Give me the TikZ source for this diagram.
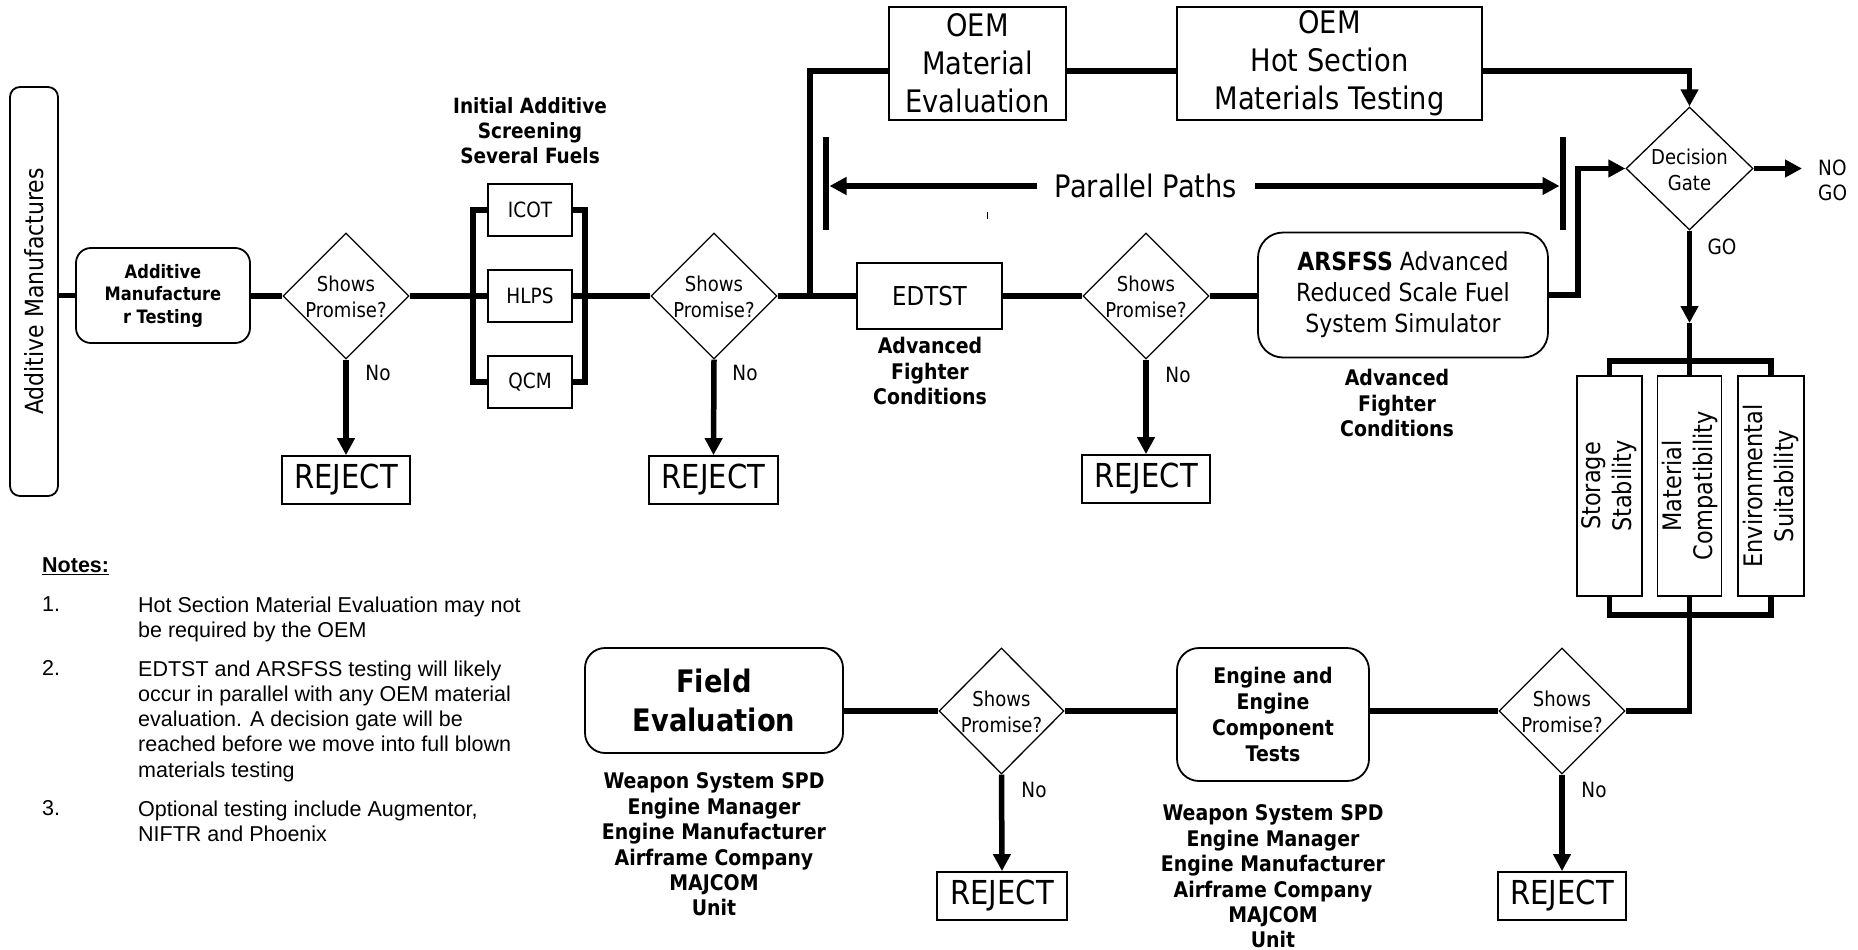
\documentclass[tikz,border=0pt]{standalone}
\usepackage{fontspec}
\usetikzlibrary{shapes.geometric,arrows.meta}
\newfontfamily\tah{DejaVu Sans}[FakeStretch=0.88]
\newfontfamily\ari{Liberation Sans}
\newcommand{\myfs}[2]{\fontsize{#1}{#2}\selectfont}
\tikzset{
  conn/.style={line width=5.5pt, line join=miter},
  arr/.style={conn, -{Triangle[length=17pt,width=17pt]}},
  bar/.style={line width=6.5pt},
  box/.style={draw, line width=1.8pt, inner sep=0pt, align=center},
  rbox/.style={box, rounded corners=15pt},
  dia/.style={draw, diamond, line width=1.3pt, inner sep=0pt, minimum width=126pt, minimum height=126pt},
  dtxt/.style={inner sep=0pt, align=center, font=\tah\myfs{20.5}{26}},
  rej/.style={box, minimum width=128pt, minimum height=48pt, font=\tah\myfs{33}{38}},
  lbl/.style={inner sep=0pt, font=\tah\myfs{21}{25}},
  sbox/.style={box, minimum width=84pt, minimum height=52pt, font=\tah\myfs{21}{25}},
  bld/.style={inner sep=0pt, align=center, font=\tah\bfseries\myfs{21.5}{25.4}},
  big/.style={box, font=\tah\myfs{31}{38}},
  vbox/.style={box, rotate=90, minimum width=220pt, font=\tah\myfs{25.5}{31}},
  ntxt/.style={inner sep=0pt, align=left, font=\ari\myfs{21.5}{25.3}}
}
\begin{document}
\begin{tikzpicture}[x=1pt,y=-1pt]
\useasboundingbox[fill=white] (0,0) rectangle (1858,950);

% ---------- top row ----------
\node[rbox, rounded corners=10pt, rotate=90, minimum width=409pt, minimum height=48pt, font=\tah\myfs{25}{30}] (addman) at (34,291.5) {Additive Manufactures};
\node[rbox, minimum width=174pt, minimum height=95pt, font=\tah\bfseries\myfs{18.5}{22.5}] (amt) at (163,295.5) {Additive\\Manufacture\\r Testing};

\node[dia] (d1) at (346,296) {};
\node[dtxt] (d1t) at (346,297) {Shows\\Promise?};
\node[rej] (r1) at (346,480) {REJECT};
\node[lbl] (n1) at (378,373) {No};

\node[bld, font=\tah\bfseries\myfs{21}{25}] (ias) at (530,131) {Initial Additive\\Screening\\Several Fuels};
\node[sbox] (icot) at (530,210) {ICOT};
\node[sbox] (hlps) at (530,296) {HLPS};
\node[sbox] (qcm) at (530,382) {QCM};

\node[dia] (d2) at (714,296) {};
\node[dtxt] (d2t) at (714,297) {Shows\\Promise?};
\node[rej, minimum width=129pt] (r2) at (713.5,480) {REJECT};
\node[lbl] (n2) at (745,373) {No};

\node[big, minimum width=177pt, minimum height=113pt] (oem1) at (977.5,63.5) {OEM\\Material\\Evaluation};
\node[big, minimum width=305pt, minimum height=113pt] (oem2) at (1329.5,63.5) {OEM\\Hot Section\\Materials Testing};

\node[inner sep=0pt, inner xsep=18pt, font=\tah\myfs{31}{38}] (pp) at (1146,186) {Parallel Paths};
\coordinate (plt) at (826,137); \coordinate (plb) at (826,230);
\coordinate (prt) at (1563,137); \coordinate (prb) at (1563,230);
\coordinate (pla) at (829.5,186); \coordinate (pra) at (1559.5,186);
\draw[bar] (plt) -- (plb);
\draw[bar] (prt) -- (prb);
\draw[arr] (pp.west) -- (pla);
\draw[arr] (pp.east) -- (pra);
\draw[line width=0.8pt] (987,212) -- (987,219);

\node[box, minimum width=145pt, minimum height=66pt, font=\tah\myfs{26}{30}] (edtst) at (929.5,296) {EDTST};
\node[bld] (afc1) at (930,371) {Advanced\\Fighter\\Conditions};

\node[dia] (d3) at (1146,296) {};
\node[dtxt] (d3t) at (1146,297) {Shows\\Promise?};
\node[rej] (r3) at (1146,479) {REJECT};
\node[lbl] (n3) at (1178,375) {No};

\node[rbox, rounded corners=25pt, minimum width=290pt, minimum height=125pt, font=\tah\myfs{25}{31}] (arsfss) at (1403,295) {{\bfseries ARSFSS} Advanced\\Reduced Scale Fuel\\System Simulator};
\node[bld] (afc2) at (1397,403) {Advanced\\Fighter\\Conditions};

\node[dia, minimum width=127pt, minimum height=123pt] (gate) at (1689.5,168.5) {};
\node[dtxt] (gatet) at (1689.5,169.5) {Decision\\Gate};
\node[lbl, align=left, anchor=west] (ng) at (1818,180) {NO\\GO};
\node[lbl] (go) at (1722,247) {GO};

\node[vbox, minimum height=65pt] (stor) at (1609.5,486) {Storage\\Stability};
\node[vbox, minimum height=64pt] (mat) at (1689.5,486) {Material\\Compatibility};
\node[vbox, minimum height=66pt] (env) at (1771,486) {Environmental\\Suitability};

% ---------- bottom row ----------
\node[dia] (d4) at (1562,711) {};
\node[dtxt] (d4t) at (1562,712) {Shows\\Promise?};
\node[rej] (r4) at (1562,896) {REJECT};
\node[lbl] (n4) at (1594,790) {No};

\node[rbox, rounded corners=22pt, minimum width=192pt, minimum height=133pt, font=\tah\bfseries\myfs{21.5}{25.7}] (engine) at (1273,714.5) {Engine and\\Engine\\Component\\Tests};
\node[bld] (wl2) at (1273,876.5) {Weapon System SPD\\Engine Manager\\Engine Manufacturer\\Airframe Company\\MAJCOM\\Unit};

\node[dia, minimum width=125pt] (d5) at (1001.5,711) {};
\node[dtxt] (d5t) at (1001.5,712) {Shows\\Promise?};
\node[rej, minimum width=130pt] (r5) at (1002,896) {REJECT};
\node[lbl] (n5) at (1034,790) {No};

\node[rbox, rounded corners=20pt, minimum width=258pt, minimum height=105pt, font=\tah\bfseries\myfs{31}{39}] (field) at (714,700.5) {Field\\Evaluation};
\node[bld] (wl1) at (714,844.5) {Weapon System SPD\\Engine Manager\\Engine Manufacturer\\Airframe Company\\MAJCOM\\Unit};

% ---------- notes ----------
\node[ntxt, anchor=west, font=\ari\bfseries\myfs{21.5}{25.3}] (nh) at (42,566) {\underline{Notes:}};
\node[ntxt, anchor=west] (k1) at (42,604) {1.};
\node[ntxt, anchor=west] (k2) at (42,668) {2.};
\node[ntxt, anchor=west] (k3) at (42,808) {3.};
\node[ntxt, anchor=north west] (t1) at (138,596.3) {Hot Section Material Evaluation may not\\be required by the OEM};
\node[ntxt, anchor=north west] (t2) at (138,660.3) {EDTST and ARSFSS testing will likely\\occur in parallel with any OEM material\\evaluation. A decision gate will be\\reached before we move into full blown\\materials testing};
\node[ntxt, anchor=north west] (t3) at (138,800.3) {Optional testing include Augmentor,\\NIFTR and Phoenix};

% ---------- connectors ----------
\draw[conn] (amt.west) -- (amt.west -| addman.south);
\draw[conn] (d1.west) -- (d1.west -| amt.east);
\draw[conn] (d1.east) -- (hlps.west);
\draw[conn] (hlps.east) -- (d2.west);
\coordinate (bl) at (473,0);
\coordinate (brr) at (585,0);
\draw[conn] (icot.west) -- (icot.west -| bl) -- (qcm.west -| bl) -- (qcm.west);
\draw[conn] (icot.east) -- (icot.east -| brr) -- (qcm.east -| brr) -- (qcm.east);

\draw[arr] (d1.south) -- (r1.north);
\draw[arr] (d2.south) -- (r2.north);
\draw[arr] (d3.south) -- (r3.north);

\draw[conn] (d2.east) -- (edtst.west);
\coordinate (br1) at (810,296);
\coordinate (ty) at (0,71);
\draw[conn] (br1) |- (ty -| oem1.west);
\draw[conn] (ty -| oem1.east) -- (ty -| oem2.west);
\draw[arr] (ty -| oem2.east) -| (gate.north);
\draw[conn] (edtst.east) -- (d3.west);
\draw[conn] (d3.east) -- (d3.east -| arsfss.west);
\coordinate (aj) at (1578,295);
\draw[arr] (arsfss.east) -- (aj) |- (gate.west);
\coordinate (ngc) at (1802,168.5);
\draw[arr] (gate.east) -- (ngc);
\coordinate (goa) at (1689.5,323);
\coordinate (bt) at (1689.5,361);
\draw[arr] (gate.south) -- (goa);
\draw[conn] (goa) -- (bt);
\draw[conn] (stor.east) -- (stor.east |- bt) -- (env.east |- bt) -- (env.east);
\draw[conn] (bt) -- (mat.east);
\coordinate (bb) at (1689.5,615);
\draw[conn] (stor.west) -- (stor.west |- bb) -- (env.west |- bb) -- (env.west);
\draw[conn] (mat.west) -- (bb) |- (d4.east);
\draw[conn] (d4.west) -- (d4.west -| engine.east);
\draw[conn] (d5.east) -- (d5.east -| engine.west);
\draw[conn] (d5.west) -- (d5.west -| field.east);
\draw[arr] (d4.south) -- (r4.north);
\draw[arr] (d5.south) -- (r5.north);
\end{tikzpicture}
\end{document}
